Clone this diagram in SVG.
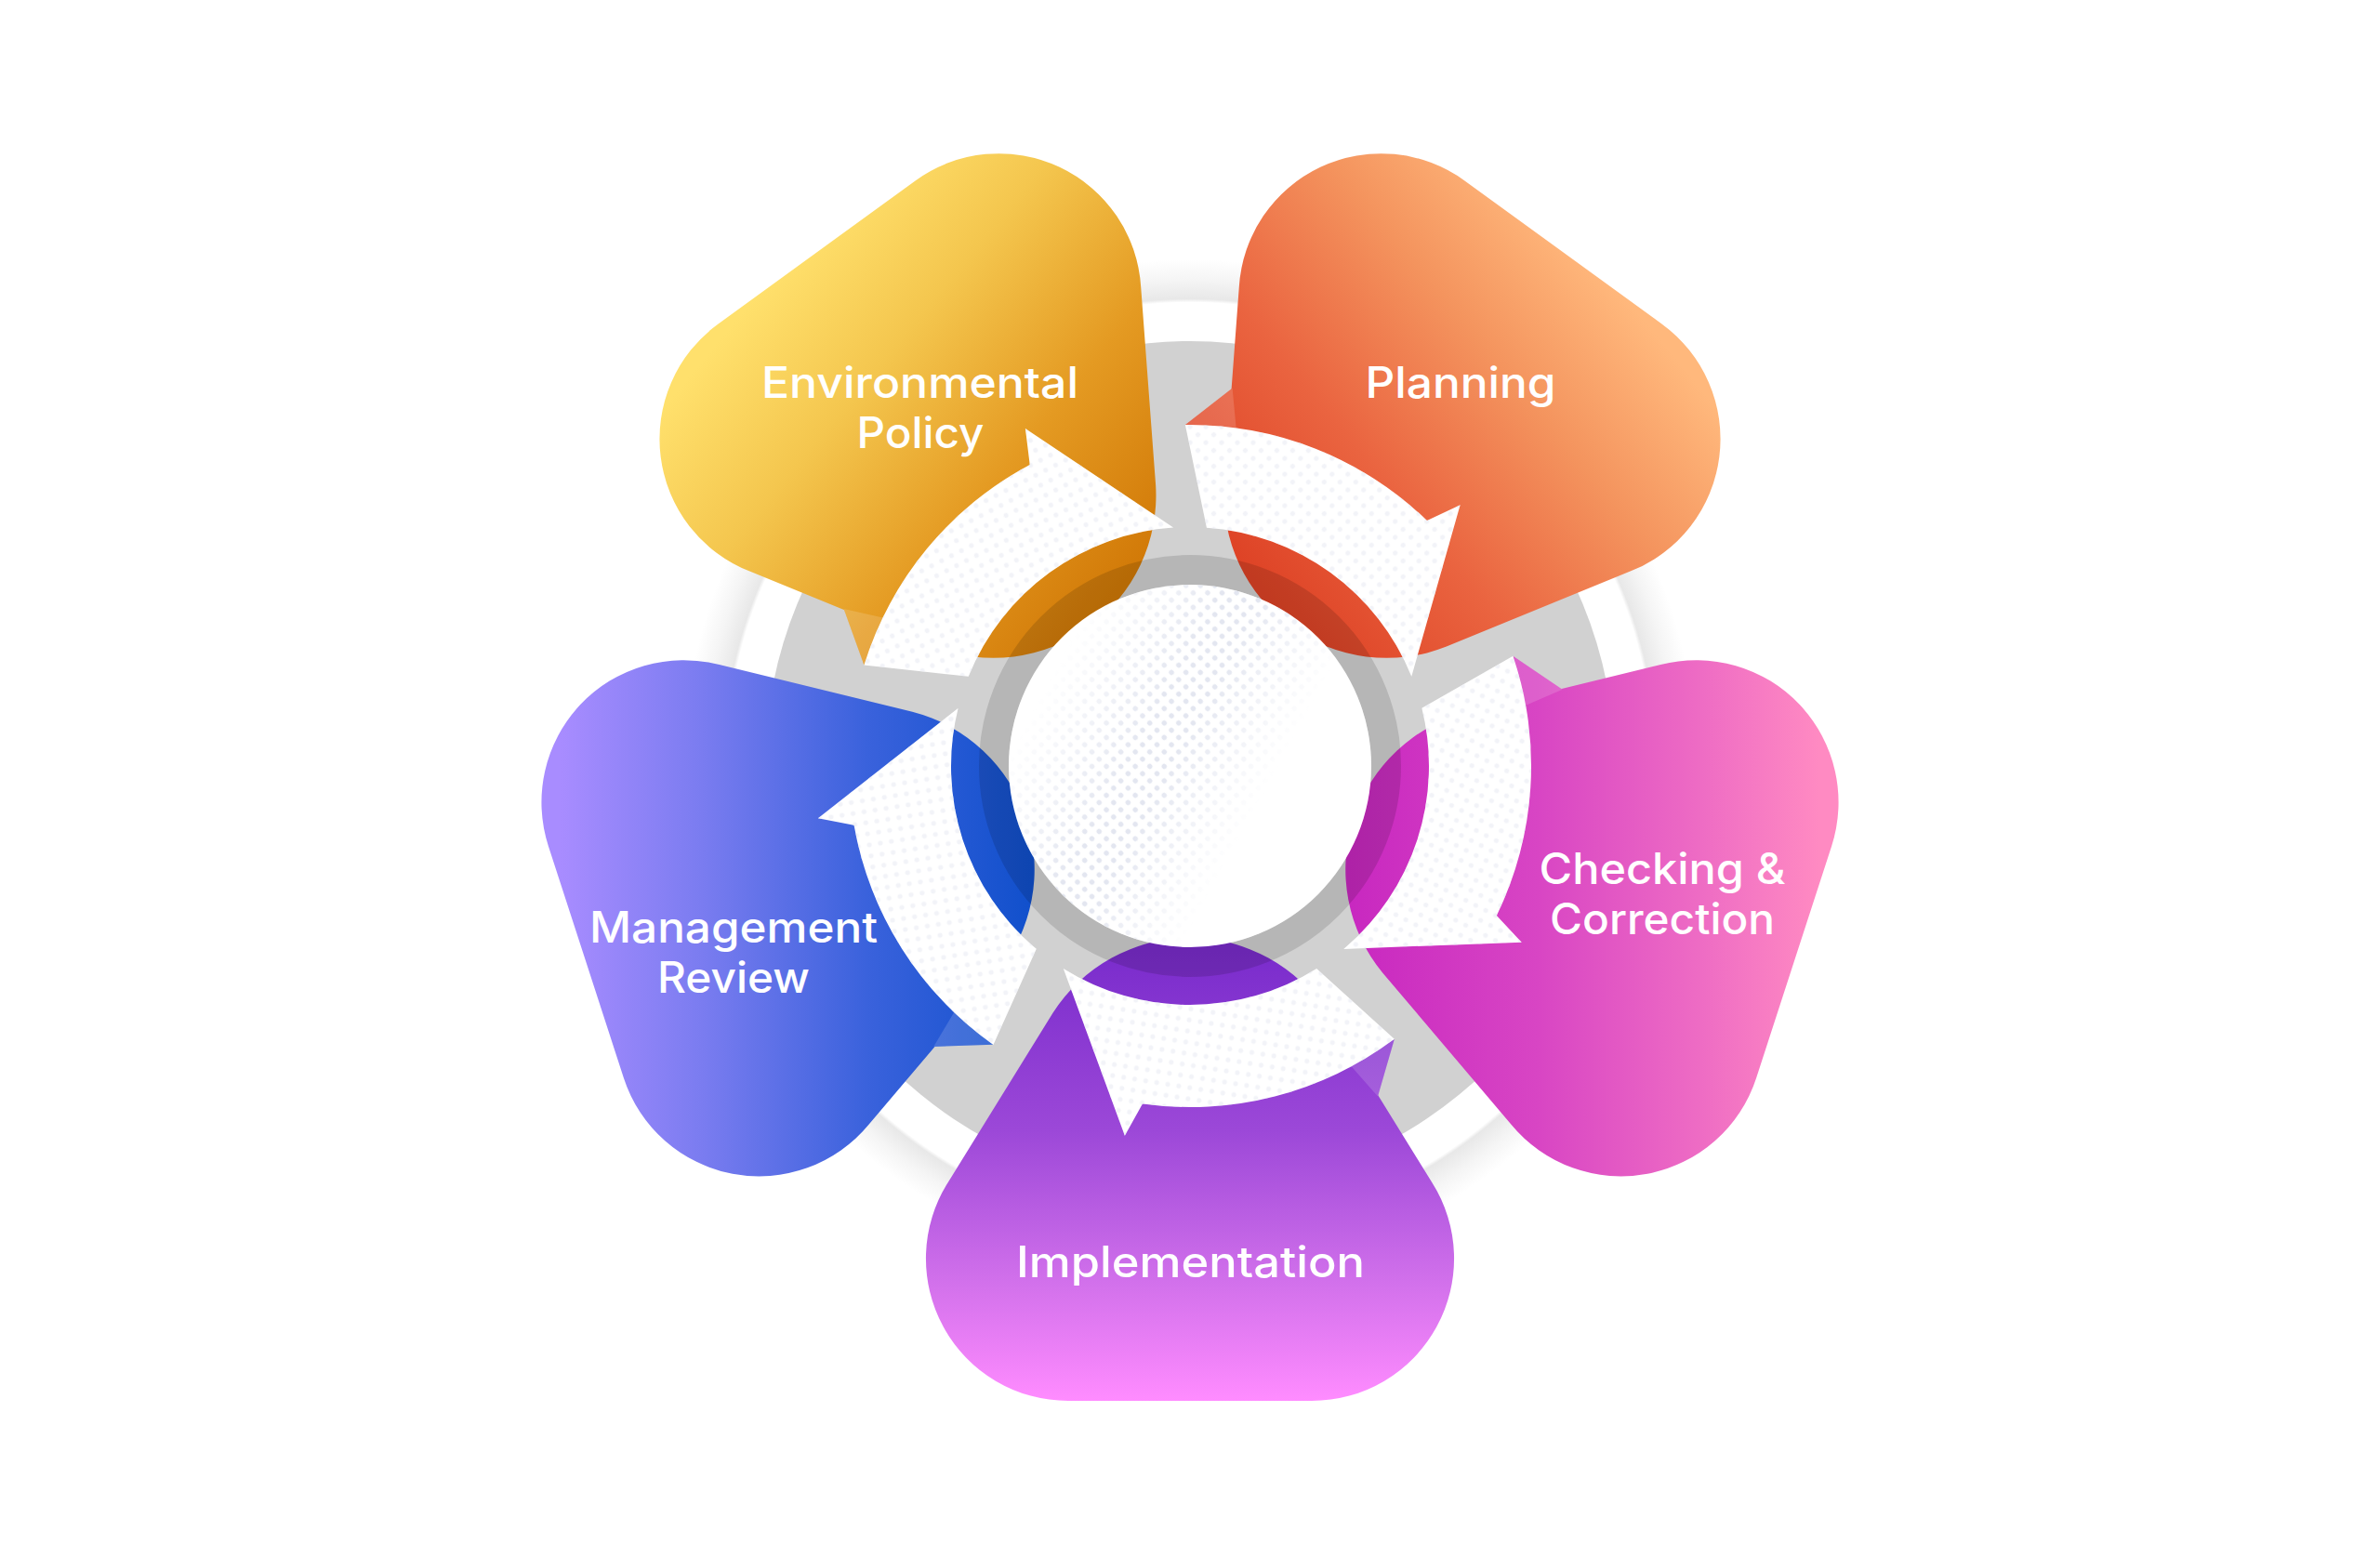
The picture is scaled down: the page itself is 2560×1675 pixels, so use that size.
<svg xmlns="http://www.w3.org/2000/svg" xmlns:xlink="http://www.w3.org/1999/xlink" width="2560" height="1675" viewBox="0 0 2560 1675">
  <style>
    .lbl { font-family: Inter, "Open Sans", "Liberation Sans", sans-serif; font-weight: 500; font-size: 46px; fill: #ffffff; text-anchor: middle; }
    .fold { fill: #ffffff; opacity: 0.15; }
  </style>
  <defs>
    <radialGradient id="halo" gradientUnits="userSpaceOnUse" cx="1280" cy="824" r="545">
      <stop offset="0" stop-color="#ffffff"/>
      <stop offset="0.915" stop-color="#ffffff"/>
      <stop offset="0.922" stop-color="#e8e8e8"/>
      <stop offset="0.96" stop-color="#f5f5f5"/>
      <stop offset="1" stop-color="#ffffff"/>
    </radialGradient>
    <linearGradient id="gEnv" gradientUnits="userSpaceOnUse" x1="-50" y1="200" x2="75" y2="685">
      <stop offset="0" stop-color="#d27a08"/>
      <stop offset="0.35" stop-color="#e49a22"/>
      <stop offset="0.7" stop-color="#f4c64e"/>
      <stop offset="1" stop-color="#ffe06c"/>
    </linearGradient>
    <linearGradient id="gPlan" gradientUnits="userSpaceOnUse" x1="50" y1="200" x2="-75" y2="685">
      <stop offset="0" stop-color="#de4326"/>
      <stop offset="0.35" stop-color="#ea6440"/>
      <stop offset="0.7" stop-color="#f4945e"/>
      <stop offset="1" stop-color="#ffb87c"/>
    </linearGradient>
    <linearGradient id="gCheck" gradientUnits="userSpaceOnUse" x1="-60" y1="200" x2="95" y2="680">
      <stop offset="0" stop-color="#c828c0"/>
      <stop offset="0.4" stop-color="#d845c4"/>
      <stop offset="0.75" stop-color="#ee6cc4"/>
      <stop offset="1" stop-color="#ff8ac2"/>
    </linearGradient>
    <linearGradient id="gImpl" gradientUnits="userSpaceOnUse" x1="0" y1="200" x2="0" y2="683">
      <stop offset="0" stop-color="#7a2ccc"/>
      <stop offset="0.4" stop-color="#9c48d8"/>
      <stop offset="0.75" stop-color="#d472ec"/>
      <stop offset="1" stop-color="#ff8cff"/>
    </linearGradient>
    <linearGradient id="gMgmt" gradientUnits="userSpaceOnUse" x1="60" y1="200" x2="-95" y2="680">
      <stop offset="0" stop-color="#1150cc"/>
      <stop offset="0.35" stop-color="#3a62dc"/>
      <stop offset="0.7" stop-color="#7a7cf0"/>
      <stop offset="1" stop-color="#a88cff"/>
    </linearGradient>
    <path id="petal" d="M -147.7 266 A 175 175 0 0 1 147.7 266 L 260.1 447.8 A 153 153 0 0 1 131 683 L -131 683 A 153 153 0 0 1 -260.1 447.8 Z"/>
    <polygon id="foldTri" points="219.8,293.9 202,355.6 171.2,320.6"/>
    <path id="arrowShape" d="M 366.96 -5.12 L 256.37 17.93 A 257 257 0 0 1 96.27 238.29 L 280.64 290.61 L 264.0 254.94 A 367 367 0 0 0 366.96 -5.12 Z"/>
    <pattern id="dots" patternUnits="userSpaceOnUse" width="12" height="12" patternTransform="rotate(45)">
      <circle cx="6" cy="6" r="2.6" fill="#e9ebf3"/>
    </pattern>
    <pattern id="dots2" patternUnits="userSpaceOnUse" width="11" height="11" patternTransform="rotate(45)">
      <circle cx="5.5" cy="5.5" r="2.8" fill="#e3e6f0"/>
    </pattern>
    <linearGradient id="bandGrad" gradientUnits="userSpaceOnUse" x1="1110" y1="765" x2="1340" y2="890">
      <stop offset="0" stop-color="#000000"/>
      <stop offset="0.45" stop-color="#ffffff"/>
      <stop offset="0.6" stop-color="#ffffff"/>
      <stop offset="1" stop-color="#000000"/>
    </linearGradient>
    <mask id="bandMask" maskUnits="userSpaceOnUse" x="1000" y="540" width="560" height="570">
      <rect x="1000" y="540" width="560" height="570" fill="url(#bandGrad)"/>
    </mask>
  </defs>

  <rect x="0" y="0" width="2560" height="1675" fill="#ffffff"/>

  <g id="background">
    <circle cx="1280" cy="824" r="545" fill="url(#halo)"/>
    <circle cx="1280" cy="824" r="457" fill="#d1d1d1"/>
  </g>

  <g id="node-environmental-policy">
    <g transform="translate(1280 824) rotate(144)">
      <use href="#petal" fill="url(#gEnv)"/>
      <use href="#foldTri" fill="url(#gEnv)"/>
      <use href="#foldTri" class="fold"/>
    </g>
    <text class="lbl" x="989.5" y="428" textLength="341" lengthAdjust="spacingAndGlyphs">Environmental</text>
    <text class="lbl" x="990" y="482" textLength="137" lengthAdjust="spacingAndGlyphs">Policy</text>
  </g>

  <g id="node-planning">
    <g transform="translate(1280 824) rotate(-144)">
      <use href="#petal" fill="url(#gPlan)"/>
      <use href="#foldTri" fill="url(#gPlan)"/>
      <use href="#foldTri" class="fold"/>
    </g>
    <text class="lbl" x="1571" y="428" textLength="205" lengthAdjust="spacingAndGlyphs">Planning</text>
  </g>

  <g id="node-checking-correction">
    <g transform="translate(1280 824) rotate(-72)">
      <use href="#petal" fill="url(#gCheck)"/>
      <use href="#foldTri" fill="url(#gCheck)"/>
      <use href="#foldTri" class="fold"/>
    </g>
    <text class="lbl" x="1788" y="951" textLength="265" lengthAdjust="spacingAndGlyphs">Checking &amp;</text>
    <text class="lbl" x="1788" y="1005" textLength="242" lengthAdjust="spacingAndGlyphs">Correction</text>
  </g>

  <g id="node-implementation">
    <g transform="translate(1280 824)">
      <use href="#petal" fill="url(#gImpl)"/>
      <use href="#foldTri" fill="url(#gImpl)"/>
      <use href="#foldTri" class="fold"/>
    </g>
    <text class="lbl" x="1280.5" y="1374" textLength="375" lengthAdjust="spacingAndGlyphs">Implementation</text>
  </g>

  <g id="node-management-review">
    <g transform="translate(1280 824) rotate(72)">
      <use href="#petal" fill="url(#gMgmt)"/>
      <use href="#foldTri" fill="url(#gMgmt)"/>
      <use href="#foldTri" class="fold"/>
    </g>
    <text class="lbl" x="789" y="1014" textLength="310" lengthAdjust="spacingAndGlyphs">Management</text>
    <text class="lbl" x="789" y="1068" textLength="164" lengthAdjust="spacingAndGlyphs">Review</text>
  </g>

  <g id="hub">
    <circle cx="1280" cy="824" r="211" fill="none" stroke="#000000" stroke-opacity="0.13" stroke-width="32"/>
    <circle cx="1280" cy="824" r="195" fill="#ffffff"/>
    <circle cx="1280" cy="824" r="195" fill="url(#dots2)" mask="url(#bandMask)"/>
  </g>

  <g id="connectors">
    <g transform="translate(1280 824) rotate(-162)">
      <use href="#arrowShape" fill="#ffffff"/>
      <use href="#arrowShape" fill="url(#dots)" opacity="0.6"/>
    </g>
    <g transform="translate(1280 824) rotate(-90)">
      <use href="#arrowShape" fill="#ffffff"/>
      <use href="#arrowShape" fill="url(#dots)" opacity="0.6"/>
    </g>
    <g transform="translate(1280 824) rotate(-18)">
      <use href="#arrowShape" fill="#ffffff"/>
      <use href="#arrowShape" fill="url(#dots)" opacity="0.6"/>
    </g>
    <g transform="translate(1280 824) rotate(54)">
      <use href="#arrowShape" fill="#ffffff"/>
      <use href="#arrowShape" fill="url(#dots)" opacity="0.6"/>
    </g>
    <g transform="translate(1280 824) rotate(126)">
      <use href="#arrowShape" fill="#ffffff"/>
      <use href="#arrowShape" fill="url(#dots)" opacity="0.6"/>
    </g>
  </g>
</svg>
